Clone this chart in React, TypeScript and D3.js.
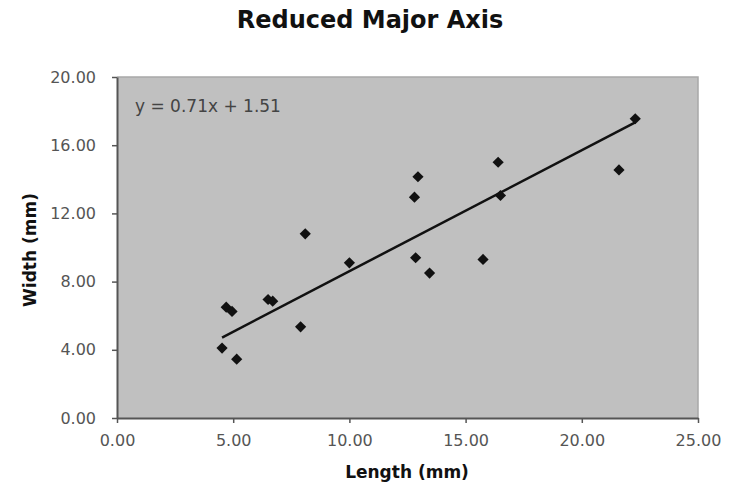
import React, { useEffect, useRef } from "react";
import * as d3 from "d3";

const lengths = [4.52, 4.7, 4.95, 5.15, 6.5, 6.7, 7.9, 8.1, 10.0, 12.8, 12.95, 12.85, 13.45, 15.75, 16.4, 16.5, 21.6, 22.3];
const widths = [4.1, 6.5, 6.25, 3.45, 6.95, 6.85, 5.35, 10.8, 9.1, 12.95, 14.15, 9.4, 8.5, 9.3, 15.0, 13.05, 14.55, 17.55];
const xTicks = [0, 5, 10, 15, 20, 25];
const yTicks = [0, 4, 8, 12, 16, 20];
const slope = 0.71;
const intercept = 1.51;

function ReducedMajorAxis() {
  const canvas = useRef<HTMLDivElement>(null);

  function drawChart() {
    const [width, height] = [736, 483];
    const margin = { top: 77, right: 38, bottom: 65, left: 117 };
    const font = "DejaVu Sans, Verdana, sans-serif";

    d3.select(canvas.current).selectAll("*").remove();
    const svg = d3
      .select(canvas.current)
      .append("svg")
      .attr("width", width)
      .attr("height", height)
      .style("position", "absolute")
      .style("left", "0px")
      .style("top", "0px")
      .style("background", "#fff");

    const xScale = d3
      .scaleLinear()
      .domain([0, 25])
      .range([margin.left, width - margin.right]);
    const yScale = d3
      .scaleLinear()
      .domain([0, 20])
      .range([height - margin.bottom, margin.top]);

    const [x0, x1] = xScale.range();
    const [y0, y1] = yScale.range();

    // plot area
    svg
      .append("rect")
      .attr("x", x0)
      .attr("y", y1)
      .attr("width", x1 - x0)
      .attr("height", y0 - y1)
      .attr("fill", "#c0c0c0");
    svg
      .append("path")
      .attr("d", `M${x0},${y1}H${x1}V${y0}`)
      .attr("fill", "none")
      .attr("stroke", "#a8a8a8")
      .attr("stroke-width", 1.5);

    const xAxis = d3
      .axisBottom(xScale)
      .tickValues(xTicks)
      .tickSize(5)
      .tickSizeOuter(0)
      .tickFormat(d3.format(".2f"));
    const yAxis = d3
      .axisLeft(yScale)
      .tickValues(yTicks)
      .tickSize(5)
      .tickSizeOuter(0)
      .tickFormat(d3.format(".2f"));

    const xAxisG = svg
      .append("g")
      .attr("transform", `translate(0, ${y0})`)
      .call(xAxis);
    const yAxisG = svg
      .append("g")
      .attr("transform", `translate(${x0}, 0)`)
      .call(yAxis);

    [xAxisG, yAxisG].forEach((g) => {
      g.select(".domain").attr("stroke", "#555").attr("stroke-width", 2);
      g.selectAll(".tick line").attr("stroke", "#555").attr("stroke-width", 1.5);
      g.selectAll(".tick text")
        .attr("fill", "#555")
        .style("font-family", font)
        .style("font-size", "16px");
    });
    xAxisG.selectAll(".tick text").attr("y", 17);
    yAxisG.selectAll(".tick text").attr("x", -21);

    // fitted line
    const xExtent = d3.extent(lengths) as [number, number];
    const line = d3
      .line<number>()
      .x((d) => xScale(d))
      .y((d) => yScale(slope * d + intercept));
    svg
      .append("path")
      .datum(xExtent)
      .attr("d", line)
      .attr("fill", "none")
      .attr("stroke", "#111")
      .attr("stroke-width", 2.5);

    // points
    const diamond = d3.symbol().type(d3.symbolDiamond2).size(80);
    svg
      .append("g")
      .selectAll("path")
      .data(lengths.map((l, i) => [l, widths[i]]))
      .join("path")
      .attr("d", diamond)
      .attr("transform", (d) => `translate(${xScale(d[0])},${yScale(d[1])})`)
      .attr("fill", "#111");

    // equation
    svg
      .append("text")
      .attr("x", x0 + 18)
      .attr("y", 112)
      .attr("fill", "#444")
      .style("font-family", font)
      .style("font-size", "17px")
      .text(`y = ${slope}x + ${intercept}`);

    // title and labels
    svg
      .append("text")
      .attr("x", 370)
      .attr("y", 28)
      .attr("text-anchor", "middle")
      .attr("fill", "#111")
      .style("font-family", font)
      .style("font-weight", "bold")
      .style("font-size", "24px")
      .text("Reduced Major Axis");

    svg
      .append("text")
      .attr("x", 407)
      .attr("y", 478)
      .attr("text-anchor", "middle")
      .attr("fill", "#111")
      .style("font-family", font)
      .style("font-weight", "bold")
      .style("font-size", "17px")
      .text("Length (mm)");

    svg
      .append("text")
      .attr("transform", "translate(36, 250) rotate(-90)")
      .attr("text-anchor", "middle")
      .attr("fill", "#111")
      .style("font-family", font)
      .style("font-weight", "bold")
      .style("font-size", "17px")
      .text("Width (mm)");
  }

  useEffect(() => {
    drawChart();
  }, []);

  return <div ref={canvas}></div>;
}

export default function App() {
  return <ReducedMajorAxis />;
}
